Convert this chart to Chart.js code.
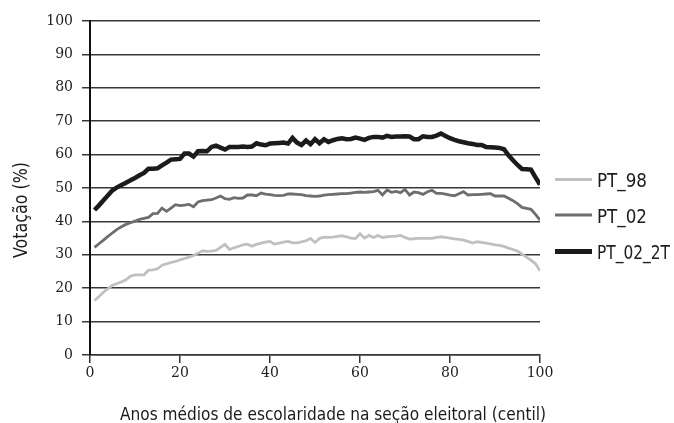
<!DOCTYPE html>
<html>
<head>
<meta charset="utf-8">
<script src="https://cdn.jsdelivr.net/npm/chart.js@4.4.0/dist/chart.umd.min.js"></script>
<style>
  html, body { margin: 0; padding: 0; background: #fff; }
  #wrap { width: 674px; height: 423px; position: relative; }
</style>
</head>
<body>
<div id="wrap"><canvas id="c"></canvas></div>
<script>
// Centiles 1..100
const centiles = Array.from({length: 100}, (_, i) => i + 1);

const seriesNames = ['PT_98', 'PT_02', 'PT_02_2T'];

const pt98 = [
  16.3, 17.5, 18.8, 19.9, 20.9, 21.4, 21.9, 22.5, 23.6, 24.0,
  24.0, 24.0, 25.4, 25.5, 25.8, 26.9, 27.3, 27.7, 28.0, 28.5,
  28.9, 29.3, 29.8, 30.5, 31.2, 31.0, 31.1, 31.3, 32.2, 33.1,
  31.6, 32.1, 32.5, 33.0, 33.2, 32.6, 33.1, 33.5, 33.8, 34.0,
  33.2, 33.5, 33.8, 34.0, 33.6, 33.6, 33.9, 34.2, 34.9, 33.7,
  34.9, 35.3, 35.2, 35.3, 35.5, 35.7, 35.4, 35.0, 34.9, 36.3,
  35.0, 35.8, 35.2, 35.8, 35.2, 35.4, 35.5, 35.6, 35.8, 35.2,
  34.7, 34.8, 34.9, 34.9, 34.9, 34.9, 35.2, 35.4, 35.2, 35.0,
  34.8, 34.6, 34.4, 34.0, 33.5, 33.9, 33.7, 33.5, 33.3, 33.0,
  32.8, 32.5, 32.0, 31.6, 31.1, 30.2, 29.3, 28.4, 27.3, 25.2
];

const pt02 = [
  32.2, 33.3, 34.4, 35.5, 36.6, 37.6, 38.4, 39.1, 39.6, 40.1,
  40.6, 40.9, 41.2, 42.3, 42.4, 44.0, 43.0, 44.0, 45.0, 44.7,
  44.9, 45.1, 44.4, 45.8, 46.2, 46.4, 46.5, 47.0, 47.6, 46.8,
  46.6, 47.1, 46.9, 47.0, 47.9, 47.9, 47.7, 48.5, 48.2, 48.0,
  47.8, 47.7, 47.8, 48.2, 48.2, 48.1, 48.0, 47.7, 47.6, 47.5,
  47.6, 47.9, 48.0, 48.1, 48.2, 48.3, 48.3, 48.5, 48.7, 48.8,
  48.7, 48.8, 48.9, 49.3, 47.9, 49.4, 48.7, 49.0, 48.6, 49.6,
  47.9, 48.8, 48.6, 48.1, 48.9, 49.3, 48.4, 48.4, 48.2, 47.9,
  47.7, 48.3, 48.9, 47.9, 48.0, 48.0, 48.1, 48.2, 48.3, 47.6,
  47.6, 47.6, 46.9, 46.2, 45.3, 44.2, 43.9, 43.6, 42.1, 40.4
];

const pt02_2t = [
  43.4, 44.8, 46.3, 47.8, 49.3, 50.2, 50.9, 51.6, 52.3, 53.0,
  53.8, 54.5, 55.8, 55.8, 55.9, 56.8, 57.6, 58.5, 58.6, 58.7,
  60.3, 60.3, 59.4, 61.0, 61.1, 61.0, 62.3, 62.7, 62.1, 61.5,
  62.3, 62.3, 62.3, 62.4, 62.3, 62.4, 63.4, 63.0, 62.8, 63.3,
  63.4, 63.5, 63.6, 63.3, 65.0, 63.6, 62.9, 64.2, 63.1, 64.6,
  63.4, 64.6, 63.8, 64.3, 64.7, 64.9, 64.6, 64.7, 65.1, 64.8,
  64.4, 65.0, 65.3, 65.3, 65.1, 65.6, 65.3, 65.4, 65.4, 65.5,
  65.4, 64.6, 64.6, 65.5, 65.3, 65.3, 65.7, 66.3, 65.6, 64.9,
  64.4, 64.0, 63.7, 63.4, 63.2, 62.9, 62.9, 62.3, 62.2, 62.1,
  62.0, 61.6, 59.8, 58.3, 56.9, 55.7, 55.6, 55.5, 53.2, 51.0
];

const xTicks = [0, 20, 40, 60, 80, 100];
const yTicks = [0, 10, 20, 30, 40, 50, 60, 70, 80, 90, 100];

const xTitle = 'Anos médios de escolaridade na seção eleitoral (centil)';
const yTitle = 'Votação (%)';

const colors = ['#c0c0c0', '#6e6e6e', '#1b1b1b'];
const widths = [2.8, 2.8, 4.5];
const legendWidths = [3, 3, 5];

const condensed = "'DejaVu Sans Condensed', 'Liberation Sans Narrow', 'Roboto', sans-serif";
const serif = "'DejaVu Serif', 'Liberation Serif', serif";

const toPts = arr => arr.map((v, i) => ({x: centiles[i], y: v}));
const values = [pt98, pt02, pt02_2t];

const datasets = seriesNames.map((name, i) => ({
  label: name,
  data: toPts(values[i]),
  borderColor: colors[i],
  backgroundColor: colors[i],
  borderWidth: widths[i],
  pointRadius: 0,
  tension: 0,
  fill: false,
  borderJoinStyle: 'miter'
}));

// draw text fitted to a target width (condensed look)
function fitText(ctx, text, x, y, targetW, align) {
  const w = ctx.measureText(text).width;
  const s = targetW / w;
  ctx.save();
  ctx.translate(x, y);
  ctx.scale(s, 1);
  ctx.textAlign = align;
  ctx.fillText(text, 0, 0);
  ctx.restore();
}

const textPlugin = {
  id: 'textBits',
  afterDraw(chart) {
    const ctx = chart.ctx;
    ctx.save();
    ctx.fillStyle = '#1c1c1c';
    ctx.textBaseline = 'alphabetic';

    // x-axis title
    ctx.font = '18px ' + condensed;
    fitText(ctx, xTitle, 333, 420, 426, 'center');

    // y-axis title (rotated)
    ctx.save();
    ctx.translate(27, 210);
    ctx.rotate(-Math.PI / 2);
    ctx.font = '19px ' + condensed;
    fitText(ctx, yTitle, 0, 0, 96, 'center');
    ctx.restore();

    // legend
    const x0 = 555, x1 = 592, tx = 597;
    const ys = [179.5, 215, 251.5];
    const tw = [50, 50, 73];
    chart.data.datasets.forEach((ds, i) => {
      const y = ys[i];
      ctx.strokeStyle = ds.borderColor;
      ctx.lineWidth = legendWidths[i];
      ctx.lineCap = 'butt';
      ctx.beginPath();
      ctx.moveTo(x0, y);
      ctx.lineTo(x1, y);
      ctx.stroke();
      ctx.fillStyle = '#1c1c1c';
      ctx.font = '19px ' + condensed;
      ctx.textBaseline = 'alphabetic';
      fitText(ctx, ds.label, tx, y + 7.5, tw[i], 'left');
    });
    ctx.restore();
  }
};

new Chart(document.getElementById('c'), {
  type: 'line',
  data: { datasets },
  plugins: [textPlugin],
  options: {
    responsive: true,
    maintainAspectRatio: false,
    animation: false,
    layout: { padding: { left: 0, right: 134, top: 21, bottom: 0 } },
    plugins: { legend: { display: false }, tooltip: { enabled: false } },
    scales: {
      x: {
        type: 'linear',
        min: 0, max: 100,
        afterBuildTicks: s => { s.ticks = xTicks.map(v => ({value: v})); },
        afterFit: s => { s.height = 68; },
        grid: { display: true, drawOnChartArea: false, drawTicks: true, tickLength: 8, color: '#333', lineWidth: 1.5 },
        border: { display: true, color: '#333', width: 1.5 },
        ticks: { color: '#222', font: { family: serif, size: 14 }, padding: 2, maxRotation: 0 },
        title: { display: false }
      },
      y: {
        min: 0, max: 100,
        afterBuildTicks: s => { s.ticks = yTicks.map(v => ({value: v})); },
        afterFit: s => { s.width = 90; },
        grid: { display: true, drawTicks: true, tickLength: 8, color: '#383838', lineWidth: 1.5 },
        border: { display: true, color: '#111', width: 2 },
        ticks: { color: '#222', font: { family: serif, size: 14 }, padding: 9 },
        title: { display: false }
      }
    }
  }
});
</script>
</body>
</html>
